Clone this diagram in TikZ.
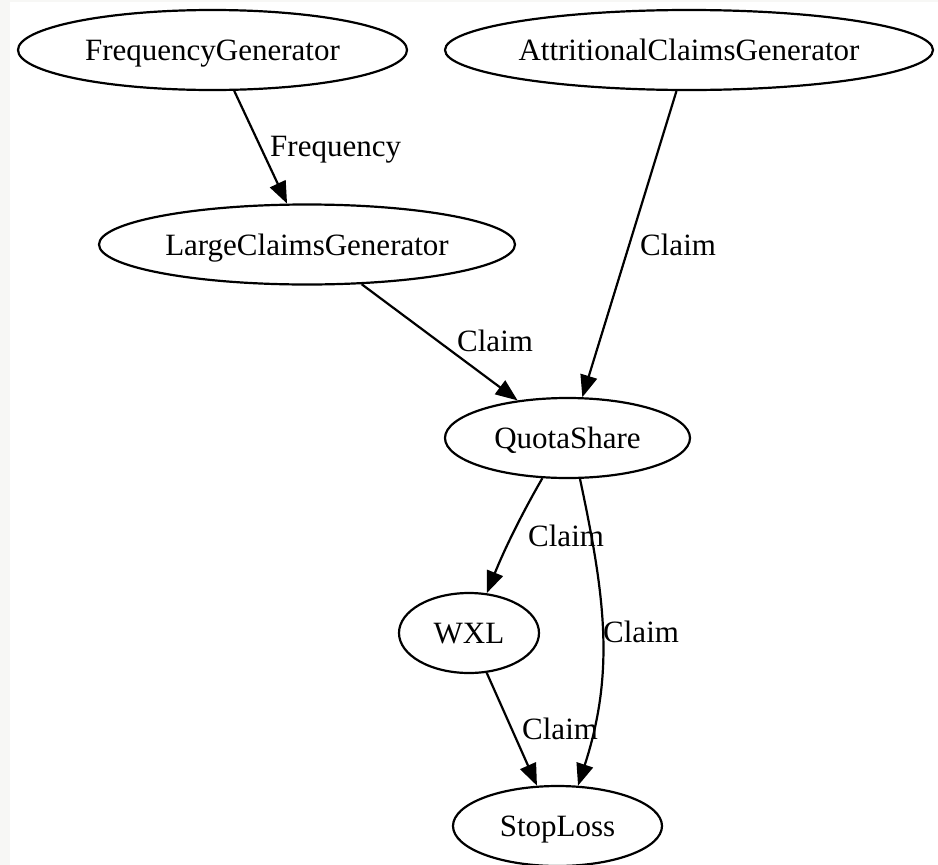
\documentclass[tikz,border=0pt]{standalone}
\usepackage{fontspec}
\setmainfont{Liberation Serif}
\usetikzlibrary{shapes.geometric,arrows.meta}
\definecolor{bgstrip}{RGB}{247,247,245}
\begin{document}
\begin{tikzpicture}[x=1pt,y=-1pt,
  gnode/.style={ellipse,draw,line width=2.2pt,inner sep=0pt,minimum height=80pt,
    text height=27pt,text depth=6pt,font=\fontsize{31}{36}\selectfont},
  conn/.style={draw,line width=2.2pt,-{Triangle[length=22pt,width=17pt]}},
  elabel/.style={anchor=base west,inner sep=0pt,font=\fontsize{31}{36}\selectfont}]
\useasboundingbox (0,0) rectangle (938,865);
\fill[bgstrip] (0,0) rectangle (10,865);
\fill[bgstrip] (0,0) rectangle (938,2);

\node[gnode,minimum width=389pt] (FG) at (212.5,50) {FrequencyGenerator};
\node[gnode,minimum width=488pt] (ACG) at (689,50) {AttritionalClaimsGenerator};
\node[gnode,minimum width=416pt] (LCG) at (307,244.5) {LargeClaimsGenerator};
\node[gnode,minimum width=245pt] (QS) at (567.5,438) {QuotaShare};
\node[gnode,minimum width=140pt] (WXL) at (469,633) {WXL};
\node[gnode,minimum width=209pt] (SL) at (557.5,826) {StopLoss};

\draw[conn] (FG.-62) -- (LCG.116);
\draw[conn] (ACG.-107) -- (QS.70);
\draw[conn] (LCG.-36) -- (QS.143);
\draw[conn] (QS.-122) .. controls +(-120:45pt) and +(68:45pt) .. (WXL.66);
\draw[conn] (QS.-73) .. controls +(-78:120pt) and +(72:120pt) .. (SL.63);
\draw[conn] (WXL.-66) -- (SL.117);

\node[elabel] (l1) at (270,156) {Frequency};
\node[elabel] (l2) at (640,255) {Claim};
\node[elabel] (l3) at (457,351) {Claim};
\node[elabel] (l4) at (528,546) {Claim};
\node[elabel] (l5) at (603,642) {Claim};
\node[elabel] (l6) at (522,739) {Claim};
\end{tikzpicture}
\end{document}
